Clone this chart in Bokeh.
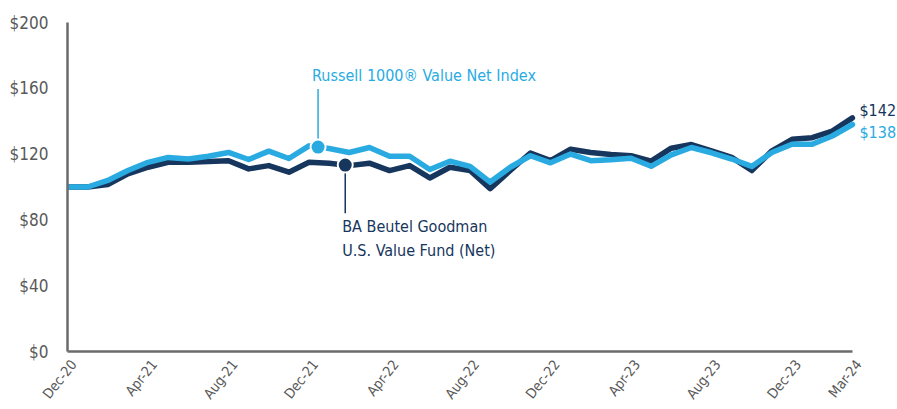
import numpy as np
from bokeh.plotting import figure
from bokeh.models import Range1d, FixedTicker, Label
from bokeh.embed import file_html
from bokeh.resources import INLINE

months = ["Dec-20", "Jan-21", "Feb-21", "Mar-21", "Apr-21", "May-21", "Jun-21", "Jul-21",
          "Aug-21", "Sep-21", "Oct-21", "Nov-21", "Dec-21", "Jan-22", "Feb-22", "Mar-22",
          "Apr-22", "May-22", "Jun-22", "Jul-22", "Aug-22", "Sep-22", "Oct-22", "Nov-22",
          "Dec-22", "Jan-23", "Feb-23", "Mar-23", "Apr-23", "May-23", "Jun-23", "Jul-23",
          "Aug-23", "Sep-23", "Oct-23", "Nov-23", "Dec-23", "Jan-24", "Feb-24", "Mar-24"]

fund = [100, 100, 101.5, 108, 112, 115, 115, 115.5, 116, 111, 113, 109, 115, 114.5, 113,
        114.5, 110, 113, 105.5, 112, 110, 99, 110, 120.7, 116, 123, 121, 119.7, 119, 115.7,
        123.6, 125.8, 122, 118, 110, 122, 129, 130, 134, 142]

index = [100, 100, 104, 110, 115, 118, 117, 118.7, 121, 116.7, 121.8, 117.3, 125, 123.4,
         121, 124, 118.7, 118.7, 110.6, 115.7, 112.5, 103, 112, 119, 114.7, 120, 116, 116.5,
         117.5, 112.6, 119.5, 124, 120.8, 117, 112.5, 121, 126, 126, 131, 138]

x_tick_labels = ["Dec-20", "Apr-21", "Aug-21", "Dec-21", "Apr-22", "Aug-22", "Dec-22",
                 "Apr-23", "Aug-23", "Dec-23", "Mar-24"]
y_ticks = [0, 40, 80, 120, 160, 200]
y_tick_labels = ["$0", "$40", "$80", "$120", "$160", "$200"]

index_name = "Russell 1000\u00ae  Value Net Index"
fund_name = ["BA Beutel Goodman", "U.S. Value Fund (Net)"]

LIGHT = "#29abe2"
DARK = "#17365d"
GREY = "#6b6b6b"
TXT = "#595959"
FONT = "DejaVu Sans Condensed, Roboto"

xs = np.arange(len(months))
LABEL_SHIFT = 0.3  # tick labels sit slightly right of their month
x_tick_pos = [months.index(m) + LABEL_SHIFT for m in x_tick_labels]

p = figure(width=897, height=409, output_backend="svg", toolbar_location=None,
           x_range=Range1d(0, 41.24), y_range=Range1d(0, 200),
           min_border_left=67, min_border_right=0, min_border_top=22, min_border_bottom=58)
p.outline_line_color = None
p.xgrid.visible = False
p.ygrid.visible = False

p.line(xs, fund, line_color=DARK, line_width=5.5, line_join="round", line_cap="round")
p.line(xs, index, line_color=LIGHT, line_width=5.5, line_join="round", line_cap="round")

# callout markers, placed on the series
idx_mx = 12.45
fund_mx = 13.8
idx_my = float(np.interp(idx_mx, xs, index))
fund_my = float(np.interp(fund_mx, xs, fund))

p.segment(x0=[idx_mx], y0=[idx_my], x1=[idx_mx], y1=[159.5], line_color=LIGHT, line_width=1.5)
p.segment(x0=[fund_mx], y0=[fund_my], x1=[fund_mx], y1=[84], line_color=DARK, line_width=1.5)
p.scatter([idx_mx], [idx_my], size=15, fill_color=LIGHT, line_color="white", line_width=2)
p.scatter([fund_mx], [fund_my], size=15, fill_color=DARK, line_color="white", line_width=2)

p.add_layout(Label(x=idx_mx, y=168, text=index_name, x_offset=-6, text_baseline="middle",
                   text_color=LIGHT, text_font=FONT, text_font_size="16px"))
p.add_layout(Label(x=fund_mx, y=76, text=fund_name[0], x_offset=-3, text_baseline="middle",
                   text_color=DARK, text_font=FONT, text_font_size="16px"))
p.add_layout(Label(x=fund_mx, y=61.5, text=fund_name[1], x_offset=-3, text_baseline="middle",
                   text_color=DARK, text_font=FONT, text_font_size="16px"))

# end values
p.add_layout(Label(x=xs[-1], y=fund[-1], text=f"${fund[-1]:.0f}", x_offset=7, y_offset=7,
                   text_baseline="middle", text_color=DARK, text_font=FONT, text_font_size="16px"))
p.add_layout(Label(x=xs[-1], y=index[-1], text=f"${index[-1]:.0f}", x_offset=7, y_offset=-8,
                   text_baseline="middle", text_color=LIGHT, text_font=FONT, text_font_size="16px"))

# axes
p.xaxis.bounds = (0, len(months) - 1)
p.xaxis.ticker = FixedTicker(ticks=x_tick_pos)
p.xaxis.major_label_overrides = {pos: lab for pos, lab in zip(x_tick_pos, x_tick_labels)}
p.xaxis.major_label_orientation = 0.9
p.yaxis.ticker = FixedTicker(ticks=y_ticks)
p.yaxis.major_label_overrides = {t: lab for t, lab in zip(y_ticks, y_tick_labels)}

for ax in (p.xaxis, p.yaxis):
    ax.axis_line_color = GREY
    ax.axis_line_width = 2.5
    ax.major_tick_line_color = None
    ax.minor_tick_line_color = None
    ax.major_label_text_color = TXT
    ax.major_label_text_font = FONT
p.yaxis.major_label_text_font_size = "17px"
p.xaxis.major_label_text_font_size = "14px"
p.yaxis.major_label_standoff = 13
p.xaxis.major_label_standoff = 4

open("out.html", "w").write(file_html(p, INLINE))
